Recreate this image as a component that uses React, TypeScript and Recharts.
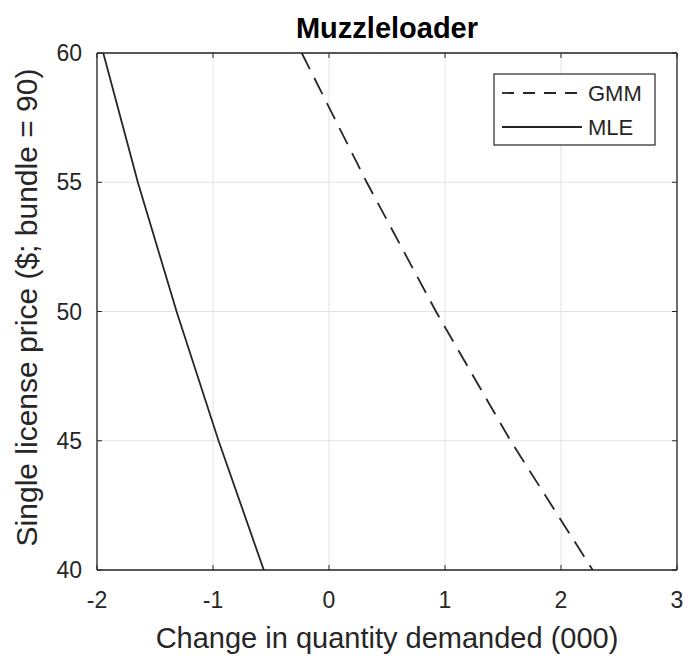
import React from 'react';
import { ScatterChart, Scatter, XAxis, YAxis, CartesianGrid, ReferenceLine } from 'recharts';

// ---- data ----
const priceLevels = [60, 55, 50, 45, 40];
const gmmQuantity = [-0.235, 0.325, 0.922, 1.565, 2.273];
const mleQuantity = [-1.946, -1.648, -1.314, -0.952, -0.562];
const xTicks = [-2, -1, 0, 1, 2, 3];
const yTicks = [40, 45, 50, 55, 60];
const xDomain = [-2, 3];
const yDomain = [40, 60];
const seriesNames = ['GMM', 'MLE'];
const chartTitle = 'Muzzleloader';
const xLabel = 'Change in quantity demanded (000)';
const yLabel = 'Single license price ($; bundle = 90)';

const gmmData = priceLevels.map((p, i) => ({ q: gmmQuantity[i], p }));
const mleData = priceLevels.map((p, i) => ({ q: mleQuantity[i], p }));

// ---- styling ----
const W = 687;
const H = 656;
const MARGIN = { top: 45, right: 18, bottom: 0, left: 0 };
const Y_AXIS_W = 89;
const X_AXIS_H = 94;
const PLOT_TOP = MARGIN.top;
const PLOT_RIGHT = W - MARGIN.right;
const FONT = '"Liberation Sans", Arial, Helvetica, sans-serif';
const INK = '#262626';
const TEXT = '#262626';
const GRID = '#e2e2e2';
const TICK_LEN = 5;
const TICK_FONT = 23;
const LABEL_FONT = 29;
const DASH = '18 10';

const BottomTick = (props: any) => {
  const { x, y, payload } = props;
  return (
    <g>
      <line x1={x} x2={x} y1={y} y2={y - TICK_LEN} stroke={INK} strokeWidth={1} />
      <line x1={x} x2={x} y1={PLOT_TOP} y2={PLOT_TOP + TICK_LEN} stroke={INK} strokeWidth={1} />
      <text x={x} y={y + 22} dy="0.71em" textAnchor="middle" fontSize={TICK_FONT} fontFamily={FONT} fill={TEXT}>
        {payload.value}
      </text>
    </g>
  );
};

const LeftTick = (props: any) => {
  const { x, y, payload } = props;
  return (
    <g>
      <line x1={x} x2={x + TICK_LEN} y1={y} y2={y} stroke={INK} strokeWidth={1} />
      <line x1={PLOT_RIGHT} x2={PLOT_RIGHT - TICK_LEN} y1={y} y2={y} stroke={INK} strokeWidth={1} />
      <text x={x - 15} y={y} dy="0.355em" textAnchor="end" fontSize={TICK_FONT} fontFamily={FONT} fill={TEXT}>
        {payload.value}
      </text>
    </g>
  );
};

const TitleLabel = (props: any) => {
  const vb = props.viewBox || {};
  return (
    <text x={vb.x + vb.width / 2} y={vb.y - 15} textAnchor="middle" fontSize={LABEL_FONT} fontWeight="bold" fontFamily={FONT} fill="#000">
      {chartTitle}
    </text>
  );
};

const XAxisLabel = (props: any) => {
  const vb = props.viewBox || {};
  return (
    <text x={vb.x + vb.width / 2} y={vb.y + 78} textAnchor="middle" fontSize={LABEL_FONT} fontFamily={FONT} fill={TEXT}>
      {xLabel}
    </text>
  );
};

const YAxisLabel = (props: any) => {
  const vb = props.viewBox || {};
  const cx = 29;
  const cy = vb.y + vb.height / 2 - 4;
  return (
    <text x={cx} y={cy} transform={`rotate(-90, ${cx}, ${cy})`} textAnchor="middle" fontSize={30} fontFamily={FONT} fill={TEXT}>
      {yLabel}
    </text>
  );
};

const NoShape = () => <g />;

const LegendBox = () => (
  <svg width={163} height={73} style={{ position: 'absolute', left: 485, top: 65 }}>
    <rect x={1} y={1} width={161} height={71} fill="#fff" stroke={INK} strokeWidth={1.2} />
    <line x1={9} x2={89} y1={20} y2={20} stroke={INK} strokeWidth={1.8} strokeDasharray="12 9" />
    <text x={95} y={20} dy="0.355em" fontSize={22} fontFamily={FONT} fill={TEXT}>{seriesNames[0]}</text>
    <line x1={9} x2={89} y1={54} y2={54} stroke={INK} strokeWidth={1.8} />
    <text x={95} y={54} dy="0.355em" fontSize={22} fontFamily={FONT} fill={TEXT}>{seriesNames[1]}</text>
  </svg>
);

export default function App() {
  return (
    <div style={{ position: 'relative', width: W, height: H, background: '#fff' }}>
      <ScatterChart width={W} height={H} margin={MARGIN}>
        <CartesianGrid stroke={GRID} strokeWidth={1} />
        <XAxis
          type="number"
          dataKey="q"
          domain={xDomain}
          ticks={xTicks}
          allowDataOverflow
          height={X_AXIS_H}
          tickSize={0}
          tickMargin={0}
          tick={<BottomTick />}
          axisLine={{ stroke: INK, strokeWidth: 1.3 }}
          label={<XAxisLabel />}
        />
        <YAxis
          type="number"
          dataKey="p"
          domain={yDomain}
          ticks={yTicks}
          allowDataOverflow
          width={Y_AXIS_W}
          tickSize={0}
          tickMargin={0}
          tick={<LeftTick />}
          axisLine={{ stroke: INK, strokeWidth: 1.3 }}
          label={<YAxisLabel />}
        />
        <ReferenceLine y={yDomain[1]} stroke={INK} strokeWidth={1.3} label={<TitleLabel />} />
        <ReferenceLine x={xDomain[1]} stroke={INK} strokeWidth={1.3} />
        <Scatter
          name={seriesNames[0]}
          data={gmmData}
          fill={INK}
          shape={<NoShape />}
          line={{ stroke: INK, strokeWidth: 1.8, strokeDasharray: DASH }}
          isAnimationActive={false}
        />
        <Scatter
          name={seriesNames[1]}
          data={mleData}
          fill={INK}
          shape={<NoShape />}
          line={{ stroke: INK, strokeWidth: 1.8 }}
          isAnimationActive={false}
        />
      </ScatterChart>
      <LegendBox />
    </div>
  );
}
